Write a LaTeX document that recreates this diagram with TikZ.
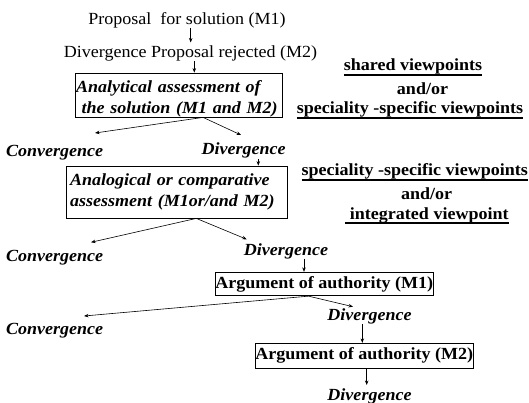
\documentclass[tikz,border=0pt]{standalone}
\usepackage{fontspec}
\setmainfont{Liberation Serif}[FakeStretch=1.06]
\usetikzlibrary{arrows.meta}
\newcommand{\uln}[1]{\sbox0{#1}\rlap{\rule[-4.8pt]{\wd0}{1.4pt}}\usebox0}

\begin{document}
\begin{tikzpicture}
  [x=1pt,y=-1pt,
   every node/.style={inner sep=0pt,font=\fontsize{17}{21}\selectfont},
   plain/.style={anchor=base},
   outcome/.style={anchor=base,font=\fontsize{17}{21}\selectfont\bfseries\itshape},
   view/.style={anchor=base,font=\fontsize{17}{21}\selectfont\bfseries},
   stage/.style={draw,line width=.8pt,align=left,font=\fontsize{17}{21}\selectfont\bfseries\itshape},
   auth/.style={draw,line width=.8pt,minimum width=218.5pt,font=\fontsize{17}{21}\selectfont\bfseries},
   arr/.style={-{Stealth[length=4.5pt,width=3.5pt]},line width=.6pt}]
  \useasboundingbox (0,0) rectangle (529,403);

  \node[plain] (p1) at (187,24.5) {Proposal\ \ for solution (M1)};
  \node[plain] (p2) at (190.5,57.5) {Divergence Proposal rejected (M2)};
  \node[stage,text width=205pt,inner xsep=1pt,minimum height=44pt] (b1) at (178.5,95)
    {\rule{0pt}{19pt}Analytical assessment of\\~the solution (M1 and M2)};
  \node[outcome] (c1) at (54.7,156.5) {Convergence};
  \node[outcome] (d1) at (243.7,155) {Divergence};
  \node[stage,text width=213pt,inner xsep=4pt,minimum height=52pt] (b2) at (176.5,192)
    {Analogical or comparative\\assessment (M1or/and M2)};
  \node[outcome] (c2) at (54.7,261) {Convergence};
  \node[outcome] (d2) at (286,255) {Divergence};
  \node[auth,minimum height=23.5pt] (b3) at (324.2,284) {Argument of authority (M1)};
  \node[outcome] (d3) at (369.5,320) {Divergence};
  \node[outcome] (c3) at (54.7,334) {Convergence};
  \node[auth,minimum height=25pt] (b4) at (364.2,355.8) {Argument of authority (M2)};
  \node[outcome] (d4) at (369.5,400) {Divergence};

  % viewpoints
  \node[view] (v1) at (413,71) {\uln{shared viewpoints}};
  \node[view] (v2) at (422.5,95) {and/or};
  \node[view] (v3) at (410,114) {\uln{speciality -specific viewpoints}};
  \node[view] (v4) at (414.7,176) {\uln{speciality -specific viewpoints}};
  \node[view] (v5) at (426.7,200) {and/or};
  \node[view] (v6) at (427,219) {\uln{\ integrated viewpoint}};

  \coordinate (e1) at (95,133);
  \coordinate (e2) at (241,135);
  \coordinate (e3) at (91,242.3);
  \coordinate (e4) at (246.7,239.3);
  \coordinate (e5) at (84,316);
  \coordinate (e6) at (353,306.7);

  \draw[arr,shorten >=3pt] ([xshift=3.7pt]p1.south) -- ([xshift=3.7pt]p1.south |- p2.north);
  \draw[arr] ([xshift=3.8pt]p2.south) -- ([xshift=3.8pt]p2.south |- b1.north);
  \foreach \to in {e1,e2}
    \draw[arr] ([xshift=128.5pt]b1.south west) -- (\to);
  \draw[arr] ([xshift=14.6pt]d1.south) -- ([xshift=14.6pt]d1.south |- b2.north);
  \foreach \to in {e3,e4}
    \draw[arr] ([xshift=130.7pt]b2.south west) -- (\to);
  \draw[arr] ([xshift=18pt]d2.south) -- ([xshift=18pt]d2.south |- b3.north);
  \foreach \to in {e5,e6}
    \draw[arr] ([xshift=94pt]b3.south west) -- (\to);
  \draw[arr] ([xshift=-7.2pt]d3.south) -- ([xshift=-7.2pt]d3.south |- b4.north);
  \draw[arr,shorten >=3pt] ([xshift=2.5pt]b4.south) -- ([xshift=2.5pt]b4.south |- d4.north);

\end{tikzpicture}
\end{document}
